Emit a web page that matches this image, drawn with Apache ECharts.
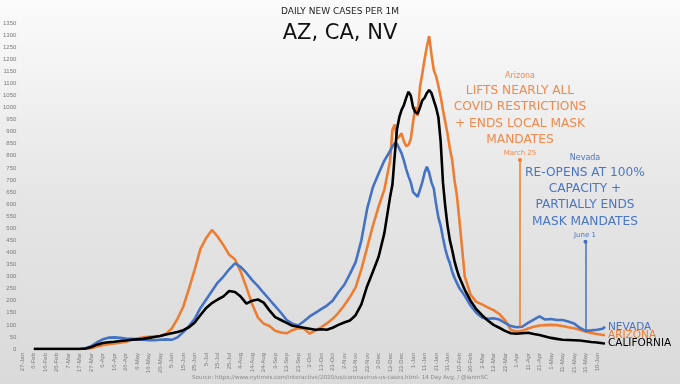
<!DOCTYPE html>
<html><head><meta charset="utf-8">
<script src="https://cdn.jsdelivr.net/npm/echarts@6/dist/echarts.min.js"></script>
<style>html,body{margin:0;padding:0;background:#eee}#c{width:680px;height:384px;}</style>
</head><body><div id="c"></div>
<script>
// x tick labels every 10 days starting 27-Jan-2020 (day 0)
const tickLabels = ['27-Jan','6-Feb','16-Feb','26-Feb','7-Mar','17-Mar','27-Mar','6-Apr','16-Apr','26-Apr',
  '6-May','16-May','26-May','5-Jun','15-Jun','25-Jun','5-Jul','15-Jul','25-Jul','4-Aug',
  '14-Aug','24-Aug','3-Sep','13-Sep','23-Sep','3-Oct','13-Oct','23-Oct','2-Nov','12-Nov',
  '22-Nov','2-Dec','12-Dec','22-Dec','1-Jan','11-Jan','21-Jan','31-Jan','10-Feb','20-Feb',
  '2-Mar','12-Mar','22-Mar','1-Apr','11-Apr','21-Apr','1-May','11-May','21-May','31-May','10-Jun'];

// day index (days since 27-Jan-2020) of each sample
const days = [0,5,10,15,20,25,30,35,40,45,50,55,60,65,70,75,80,85,90,95,100,105,110,115,120,125,
  130,135,140,145,150,155,160,165,170,175,180,185,190,195,200,205,210,215,220,225,230,235,240,245,
  250,255,260,265,270,275,280,285,290,295,300,305,310,315,320,
  322,324,326,328,330,332,334,336,338,340,342,344,346,348,350,352,354,356,358,360,
  362,364,366,368,370,372,374,376,378,380,
  385,390,395,400,405,410,415,420,425,430,435,440,445,450,455,460,465,470,475,480,485,490,495,500,505,507];

const nevada = [null,null,0,0,0,0,0,0,0,0,1,3,12,28,40,47,48,46,43,42,40,38,36,36,38,40,
  38,48,70,95,125,170,205,240,275,300,330,355,340,315,285,260,232,205,178,150,120,105,97,115,
  135,150,165,180,200,235,265,310,360,450,580,670,727,780,820,
  838,852,850,830,810,780,745,715,690,650,640,630,660,690,730,755,730,690,665,600,
  545,510,460,415,380,355,320,295,275,255,
  220,180,150,130,125,127,122,108,95,90,92,108,122,135,122,124,120,120,114,106,88,75,77,80,84,92];

const arizona = [null,null,0,0,0,0,0,0,0,0,0,0,3,10,16,20,23,26,30,37,43,48,51,53,55,62,
  85,125,175,250,330,415,460,493,465,430,390,372,320,255,185,130,105,95,76,68,65,78,86,84,
  64,76,90,106,125,150,180,215,255,330,420,510,590,660,780,
  907,930,872,880,893,860,840,845,870,940,1003,965,1086,1140,1200,1252,1296,1220,1155,1130,
  1090,1045,990,940,890,830,783,700,640,548,
  300,225,195,185,172,161,145,120,80,72,75,85,92,97,99,100,99,95,90,86,80,72,66,62,58,58];

const california = [null,null,0,0,0,0,0,0,0,0,0,2,8,18,25,28,30,33,35,38,40,42,46,50,54,60,
  65,70,78,90,110,141,170,190,205,218,240,236,217,188,200,205,192,160,132,120,108,96,92,88,
  84,80,82,80,88,100,110,118,140,185,260,320,382,480,630,
  680,800,910,960,990,1010,1040,1065,1050,1000,980,975,1000,1030,1040,1060,1072,1060,1030,1000,
  960,860,690,590,510,451,410,365,330,300,
  245,200,165,140,118,100,88,75,65,63,65,67,62,58,52,46,42,38,37,36,35,32,29,27,24,23];

// annotation markers: [day, bottom value, top value]
const azMarker = [433, 92, 783];
const nvMarker = [490, 72, 444];

const ORANGE = '#ED7D31', BLUE = '#4472C4', BLACK = '#000000';
const FONT = 'DejaVu Sans';

const chart = echarts.init(document.getElementById('c'), null, {renderer: 'canvas'});

function mk(name, values, color, marker) {
  const s = {
    name: name, type: 'line', showSymbol: false, symbol: 'none',
    data: days.map((d, i) => [d, values[i]]),
    lineStyle: {color: color, width: 2.6},
    itemStyle: {color: color},
    z: 3,
    endLabel: {show: true, formatter: '{a}', color: color, fontSize: 10.5, fontFamily: FONT, distance: 3},
    emphasis: {disabled: true}
  };
  if (marker) {
    s.markLine = {
      silent: true, animation: false,
      symbol: ['none', 'circle'], symbolSize: 4,
      label: {show: false},
      lineStyle: {color: color, width: 1.5, type: 'solid'},
      data: [[{coord: [marker[0], marker[1]]}, {coord: [marker[0], marker[2]]}]]
    };
  }
  return s;
}

function txt(x, y, text, size, color) {
  return {type: 'text', x: x, y: y, style: {text: text, fontSize: size, fontFamily: FONT, fill: color, textAlign: 'center', textVerticalAlign: 'middle'}};
}

const AZC = '#EF8A4C', NVC = '#4A76C6';

chart.setOption({
  animation: false,
  backgroundColor: {type: 'linear', x: 0, y: 0, x2: 0, y2: 1,
    colorStops: [{offset: 0, color: '#fbfbfb'}, {offset: 0.5, color: '#e6e6e6'}, {offset: 1, color: '#dadada'}]},
  grid: {left: 21, right: 75, top: 23, bottom: 35, containLabel: false},
  xAxis: {
    type: 'value', min: 0, max: 507, interval: 10,
    axisLine: {show: false}, axisTick: {show: false}, splitLine: {show: false},
    axisLabel: {
      rotate: 90, fontSize: 6, color: '#7a7a7a', fontFamily: 'Liberation Sans', margin: 4,
      showMaxLabel: false,
      formatter: v => (v % 10 === 0 && tickLabels[v / 10]) ? tickLabels[v / 10] : ''
    }
  },
  yAxis: {
    type: 'value', min: 0, max: 1350, interval: 50,
    axisLine: {show: false}, axisTick: {show: false}, splitLine: {show: false},
    axisLabel: {fontSize: 6, color: '#7a7a7a', fontFamily: 'Liberation Sans', margin: 6,
      formatter: v => String(v)}
  },
  series: [
    mk('ARIZONA', arizona, ORANGE, azMarker),
    mk('NEVADA', nevada, BLUE, nvMarker),
    mk('CALIFORNIA', california, BLACK, null)
  ],
  graphic: [
    txt(340, 12, 'DAILY NEW CASES PER 1M', 9, '#222'),
    txt(340, 34, 'AZ, CA, NV', 21, '#111'),
    txt(520, 76, 'Arizona', 8, AZC),
    txt(520, 91, 'LIFTS NEARLY ALL', 12.2, AZC),
    txt(520, 107, 'COVID RESTRICTIONS', 12.2, AZC),
    txt(520, 124, '+ ENDS LOCAL MASK', 12.2, AZC),
    txt(520, 140, 'MANDATES', 12.2, AZC),
    txt(520, 153, 'March 25', 7, AZC),
    txt(585, 158, 'Nevada', 8, NVC),
    txt(585, 173, 'RE-OPENS AT 100%', 12.2, NVC),
    txt(585, 189, 'CAPACITY +', 12.2, NVC),
    txt(585, 205, 'PARTIALLY ENDS', 12.2, NVC),
    txt(585, 222, 'MASK MANDATES', 12.2, NVC),
    txt(585, 235, 'June 1', 7, NVC),
    txt(340, 378, 'Source: https://www.nytimes.com/interactive/2020/us/coronavirus-us-cases.html- 14 Day Avg. / @ianmSC', 5.6, '#888')
  ]
});
</script></body></html>
